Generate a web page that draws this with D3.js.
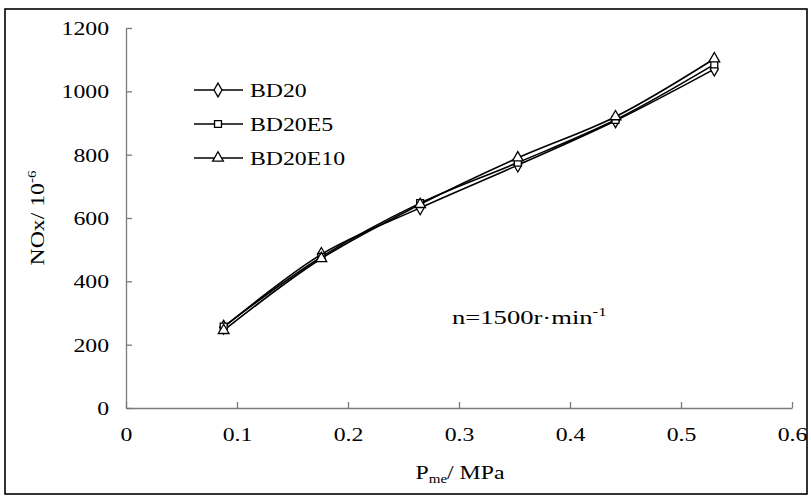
<!DOCTYPE html>
<html>
<head>
<meta charset="utf-8">
<script src="https://cdn.jsdelivr.net/npm/d3@7"></script>
<style>
  html, body { margin: 0; padding: 0; background: #fff; }
  svg text { font-family: "Liberation Serif", serif !important; fill: #000; }
</style>
</head>
<body>
<svg id="chart" width="811" height="498"></svg>
<script>
// 数据：负荷点 (MPa) 与三种燃料的 NOx
const pme     = [0.088, 0.176, 0.265, 0.353, 0.441, 0.530];
const bd20    = [255, 485, 632, 767, 907, 1070];
const bd20e5  = [257, 477, 647, 775, 910, 1085];
const bd20e10 = [245, 472, 643, 790, 920, 1103];
const seriesNames = ["BD20", "BD20E5", "BD20E10"];
const xTicks = [0, 0.1, 0.2, 0.3, 0.4, 0.5, 0.6];
const yTicks = [0, 200, 400, 600, 800, 1000, 1200];

const series = [
  { name: seriesNames[0], vals: bd20,    sym: d3.symbolDiamond },
  { name: seriesNames[1], vals: bd20e5,  sym: d3.symbolSquare },
  { name: seriesNames[2], vals: bd20e10, sym: d3.symbolTriangle }
];

const svg = d3.select("#chart");
const margin = { top: 28, left: 126, right: 19, bottom: 90 };
const W = 811, H = 498;
const FS = 19;        // 字号
const STRETCH = 1.25; // 原图文字横向拉伸

svg.append("defs").append("clipPath").attr("id", "frame")
  .append("rect").attr("x", 5).attr("y", 9).attr("width", 802).attr("height", 485);

const root = svg.append("g").attr("clip-path", "url(#frame)");

const x = d3.scaleLinear().domain([0, 0.6]).range([margin.left, W - margin.right]);
const y = d3.scaleLinear().domain([0, 1200]).range([H - margin.bottom, margin.top]);

// 坐标轴（刻度朝内，灰色）
const xAxis = root.append("g")
  .attr("transform", `translate(0,${y(0)})`)
  .call(d3.axisBottom(x).tickValues(xTicks).tickSizeInner(-6).tickSizeOuter(0)
    .tickPadding(20).tickFormat(d => d));
const yAxis = root.append("g")
  .attr("transform", `translate(${x(0)},0)`)
  .call(d3.axisLeft(y).tickValues(yTicks).tickSizeInner(-6).tickSizeOuter(0)
    .tickPadding(17).tickFormat(d => d));

[xAxis, yAxis].forEach(a => {
  a.attr("font-family", null).attr("font-size", FS);
  a.select(".domain").attr("stroke", "#7a7a7a").attr("stroke-width", 1.3);
  a.selectAll(".tick line").attr("stroke", "#7a7a7a").attr("stroke-width", 1.3);
  a.selectAll(".tick text").attr("fill", "#000");
});
yAxis.selectAll(".tick text").attr("dy", "0.35em");

// 曲线
const line = d3.line()
  .x((d, i) => x(pme[i]))
  .y(d => y(d))
  .curve(d3.curveCatmullRom.alpha(0.5));

series.forEach(s => {
  root.append("path")
    .datum(s.vals)
    .attr("fill", "none")
    .attr("stroke", "#000")
    .attr("stroke-width", 1.6)
    .attr("d", line);
});

const sym = (t) => {
  const size = t === d3.symbolDiamond ? 55 : (t === d3.symbolSquare ? 48 : 50);
  return d3.symbol().type(t).size(size)();
};

series.forEach(s => {
  root.selectAll(null)
    .data(s.vals)
    .enter().append("path")
    .attr("d", sym(s.sym))
    .attr("transform", (d, i) => `translate(${x(pme[i])},${y(d)})`)
    .attr("fill", "#fff")
    .attr("stroke", "#000")
    .attr("stroke-width", 1.3);
});

// 图例
const legend = root.append("g");
series.forEach((s, i) => {
  const ly = 90 + i * 34;
  legend.append("line")
    .attr("x1", 194).attr("x2", 243).attr("y1", ly).attr("y2", ly)
    .attr("stroke", "#000").attr("stroke-width", 1.6);
  legend.append("path")
    .attr("d", sym(s.sym))
    .attr("transform", `translate(218,${ly})`)
    .attr("fill", "#fff").attr("stroke", "#000").attr("stroke-width", 1.3);
  legend.append("text")
    .attr("x", 250).attr("y", ly).attr("dy", "0.35em")
    .attr("font-size", FS)
    .text(s.name);
});

// 转速标注（原图更宽）
const ann = root.append("text")
  .attr("class", "wide")
  .attr("x", 452).attr("y", 324)
  .attr("font-size", FS);
ann.append("tspan").text("n=1500r·min");
ann.append("tspan").attr("font-size", 12).attr("dy", -8).text("-1");

// 轴标题
const xt = root.append("text")
  .attr("x", 460).attr("y", 479)
  .attr("text-anchor", "middle")
  .attr("font-size", FS);
xt.append("tspan").text("P");
xt.append("tspan").attr("font-size", 12).attr("dy", 4).text("me");
xt.append("tspan").attr("dy", -4).text("/ MPa");

const yt = root.append("text")
  .attr("transform", `translate(44,${y(600)}) rotate(-90)`)
  .attr("text-anchor", "middle")
  .attr("font-size", FS);
yt.append("tspan").text("NOx/ 10");
yt.append("tspan").attr("font-size", 12).attr("dy", -8).text("-6");

// 文字横向拉伸
root.selectAll("text").each(function() {
  const len = this.getComputedTextLength();
  const k = this.classList.contains("wide") ? 1.4 : STRETCH;
  if (len > 0) {
    d3.select(this).attr("textLength", len * k).attr("lengthAdjust", "spacingAndGlyphs");
  }
});

// 外框
svg.append("rect")
  .attr("x", 5).attr("y", 9).attr("width", 802).attr("height", 485)
  .attr("fill", "none").attr("stroke", "#000").attr("stroke-width", 1.6);
</script>
</body>
</html>
